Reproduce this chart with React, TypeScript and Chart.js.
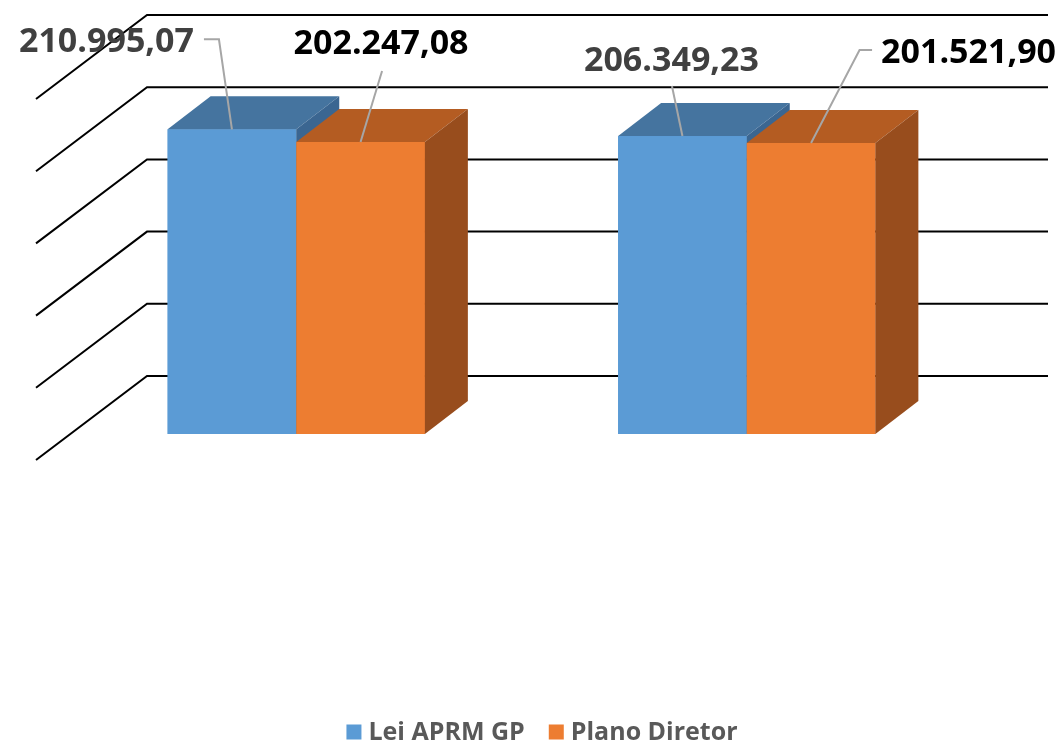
import React, { useEffect, useRef } from "react";
import { Chart, registerables } from "chart.js";

Chart.register(...registerables);

// ---- data ----
const categories = ["Grupo 1", "Grupo 2"];
const seriesNames = ["Lei APRM GP", "Plano Diretor"];
const leiAprmGp = [210995.07, 206349.23];
const planoDiretor = [202247.08, 201521.9];
const yTicks = [0, 50000, 100000, 150000, 200000, 250000];

// ---- styles ----
const frontColors = ["#5B9BD5", "#ED7D31"];
const topColors = ["#45749F", "#B45C22"];
const sideColors = ["#3B6691", "#984D1D"];
const labelColors = [["#404040", "#404040"], ["#000000", "#000000"]];
const WALL = { dx: 76, dy: -58 };
const FLOOR = { dx: -111, dy: 84 };
const DEPTH = { dx: 43, dy: -33 };
const LABEL_FONT = 'bold 34px "Open Sans"';
const LEGEND_FONT = 'bold 25px "Open Sans"';

// label placement relative to front-top-centre of each bar [dataset][category]
const labelPlacement = [
  [
    { tx: -125.5, ty: -89.5, path: [[-28, -90], [-13, -90], [0, 0]] },
    { tx: -11, ty: -77.5, path: [[-10.5, -50], [0, 0]] },
  ],
  [
    { tx: 20.5, ty: -99.5, path: [[21.5, -71], [0, 0]] },
    { tx: 157.5, ty: -92.5, path: [[61, -93], [48.5, -93], [0, 0]] },
  ],
];

function fmt(v: number): string {
  const [i, d] = v.toFixed(2).split(".");
  const withDots = i.replace(/\B(?=(\d{3})+(?!\d))/g, ".");
  return withDots + "," + d;
}

const fake3d = {
  id: "fake3d",
  beforeDatasetsDraw(chart: any) {
    const { ctx, chartArea, scales } = chart;
    const y = scales.y;
    ctx.save();
    ctx.strokeStyle = "#000";
    ctx.lineWidth = 2;
    const x0 = chartArea.left + WALL.dx;
    const x1 = chartArea.right + WALL.dx;
    yTicks.forEach((v) => {
      const py = y.getPixelForValue(v) + WALL.dy;
      ctx.beginPath();
      ctx.moveTo(x0 + FLOOR.dx, py + FLOOR.dy);
      ctx.lineTo(x0, py);
      ctx.lineTo(x1, py);
      ctx.stroke();
    });
    ctx.restore();
  },
  afterDatasetsDraw(chart: any) {
    const { ctx } = chart;
    const nDs = chart.data.datasets.length;
    const nCat = chart.data.labels.length;
    ctx.save();
    for (let c = 0; c < nCat; c++) {
      for (let d = 0; d < nDs; d++) {
        const el = chart.getDatasetMeta(d).data[c];
        const p = el.getProps(["x", "y", "base", "width"], true);
        const l = p.x - p.width / 2;
        const r = p.x + p.width / 2;
        const t = p.y;
        const b = p.base;
        ctx.fillStyle = frontColors[d];
        ctx.fillRect(l, t, r - l, b - t);
        ctx.fillStyle = topColors[d];
        ctx.beginPath();
        ctx.moveTo(l, t);
        ctx.lineTo(r, t);
        ctx.lineTo(r + DEPTH.dx, t + DEPTH.dy);
        ctx.lineTo(l + DEPTH.dx, t + DEPTH.dy);
        ctx.closePath();
        ctx.fill();
        ctx.fillStyle = sideColors[d];
        ctx.beginPath();
        ctx.moveTo(r, t);
        ctx.lineTo(r + DEPTH.dx, t + DEPTH.dy);
        ctx.lineTo(r + DEPTH.dx, b + DEPTH.dy);
        ctx.lineTo(r, b);
        ctx.closePath();
        ctx.fill();
      }
    }
    // data labels
    for (let d = 0; d < nDs; d++) {
      const meta = chart.getDatasetMeta(d);
      for (let c = 0; c < nCat; c++) {
        const el = meta.data[c];
        const p = el.getProps(["x", "y"], true);
        const place = labelPlacement[d][c];
        ctx.strokeStyle = "#A6A6A6";
        ctx.lineWidth = 2;
        ctx.beginPath();
        place.path.forEach((pt, i) => {
          const px = p.x + pt[0];
          const py = p.y + pt[1];
          if (i === 0) ctx.moveTo(px, py);
          else ctx.lineTo(px, py);
        });
        ctx.stroke();
        ctx.font = LABEL_FONT;
        ctx.fillStyle = labelColors[d][c];
        ctx.textAlign = "center";
        ctx.textBaseline = "alphabetic";
        const v = chart.data.datasets[d].data[c];
        ctx.fillText(fmt(v), p.x + place.tx, p.y + place.ty + 12);
      }
    }
    ctx.restore();
  },
  afterDraw(chart: any) {
    const { ctx } = chart;
    ctx.save();
    ctx.font = LEGEND_FONT;
    const box = 15;
    const gapText = 7;
    const gapItem = 24;
    const items = chart.data.datasets.map((ds: any, i: number) => ({
      text: ds.label,
      color: frontColors[i],
      w: box + gapText + ctx.measureText(ds.label).width,
    }));
    const total = items.reduce((s: number, it: any) => s + it.w, 0) + gapItem * (items.length - 1);
    let x = 542 - total / 2;
    const cy = 732;
    items.forEach((it: any) => {
      ctx.fillStyle = it.color;
      ctx.fillRect(x, cy - box / 2, box, box);
      ctx.fillStyle = "#595959";
      ctx.textAlign = "left";
      ctx.textBaseline = "middle";
      ctx.fillText(it.text, x + box + gapText, cy + 1);
      x += it.w + gapItem;
    });
    ctx.restore();
  },
};

export default function App() {
  const ref = useRef<HTMLCanvasElement>(null);
  useEffect(() => {
    document.body.style.margin = "0";
    const chart = new Chart(ref.current!, {
      type: "bar",
      data: {
        labels: categories,
        datasets: [
          { label: seriesNames[0], data: leiAprmGp, backgroundColor: frontColors[0], borderWidth: 0 },
          { label: seriesNames[1], data: planoDiretor, backgroundColor: frontColors[1], borderWidth: 0 },
        ],
      },
      options: {
        responsive: false,
        animation: false,
        devicePixelRatio: 1,
        layout: { padding: { left: 71, right: 91, top: 73, bottom: 312 } },
        datasets: { bar: { categoryPercentage: 0.571, barPercentage: 1 } },
        scales: {
          x: { display: false },
          y: { display: false, min: 0, max: 250000 },
        },
        plugins: { legend: { display: false }, tooltip: { enabled: false } },
      },
      plugins: [fake3d],
    });
    return () => chart.destroy();
  }, []);
  return (
    <div style={{ width: 1063, height: 746, background: "#fff" }}>
      <canvas ref={ref} width={1063} height={746} style={{ display: "block" }} />
    </div>
  );
}
